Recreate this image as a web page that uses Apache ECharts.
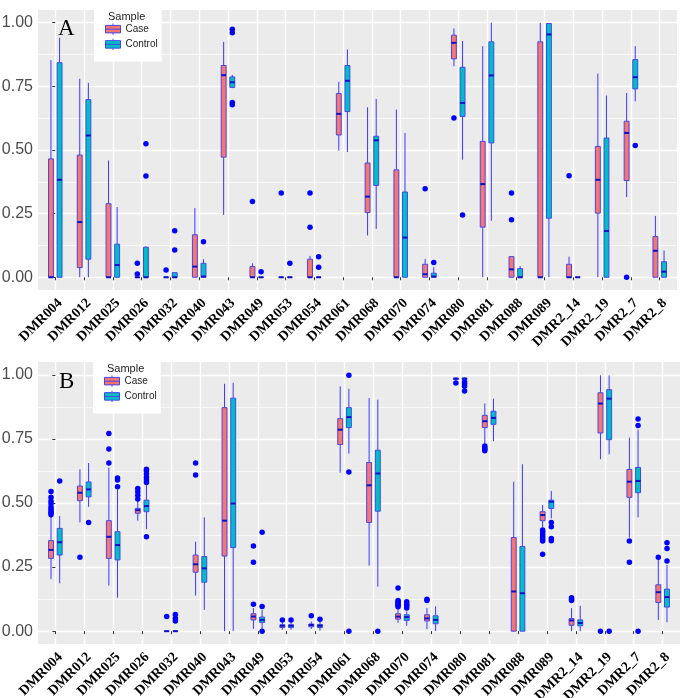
<!DOCTYPE html>
<html>
<head>
<meta charset="utf-8">
<script src="https://cdn.jsdelivr.net/npm/echarts@6/dist/echarts.min.js"></script>
<style>
html,body{margin:0;padding:0;background:#fff;}
#chart{width:685px;height:698px;}
</style>
</head>
<body>
<div id="chart"></div>
<script>
// ---------- DATA ----------
const categories = ['DMR004','DMR012','DMR025','DMR026','DMR032','DMR040','DMR043','DMR049','DMR053','DMR054','DMR061','DMR068','DMR070','DMR074','DMR080','DMR081','DMR088','DMR089','DMR2_14','DMR2_19','DMR2_7','DMR2_8'];
const groups = ['Case','Control'];
const yTicks = [0, 0.25, 0.5, 0.75, 1];
const yMinorTicks = [0.125, 0.375, 0.625, 0.875];

// Panel A boxes: [min, q1, median, q3, max]
const caseA = [
  [0,0,0,0.465,0.853],[0,0.038,0.217,0.48,0.78],[0,0,0,0.289,0.459],[0,0,0,0,0],
  [0,0,0,0,0],[0,0,0.042,0.167,0.272],[0.245,0.472,0.794,0.832,0.925],[0,0,0,0.042,0.055],
  [0,0,0,0,0],[0,0,0,0.071,0.084],[0.497,0.559,0.642,0.722,0.768],[0.164,0.254,0.317,0.449,0.668],
  [0,0,0,0.422,0.659],[0,0,0.012,0.051,0.072],[0.829,0.858,0.921,0.951,0.978],[0,0.197,0.366,0.534,0.908],
  [0,0,0.031,0.081,0.081],[0,0,0,0.925,0.999],[0,0,0,0.051,0.081],[0,0.252,0.383,0.514,0.80],
  [0.315,0.38,0.567,0.613,0.724],[0,0,0.104,0.16,0.241]
];
const controlA = [
  [0,0,0.383,0.843,0.941],[0,0.071,0.557,0.698,0.764],[0,0,0.048,0.13,0.276],[0,0,0,0.118,0.122],
  [0,0,0,0.018,0.02],[0,0,0.003,0.055,0.071],[0.743,0.746,0.766,0.787,0.795],[0,0,0,0,0],
  [0,0,0,0,0],[0,0,0,0,0],[0.492,0.651,0.772,0.832,0.895],[0.19,0.361,0.538,0.554,0.701],
  [0,0,0.156,0.335,0.567],[0,0,0.003,0.016,0.04],[0.462,0.632,0.685,0.825,0.928],[0.222,0.528,0.793,0.925,1.0],
  [0,0,0,0.034,0.044],[0,0.232,0.954,0.997,0.997],[0,0,0,0,0],[0,0,0.182,0.547,0.714],
  [0.691,0.74,0.786,0.855,0.908],[0,0,0.022,0.061,0.105]
];
const caseOutA = [
  [],[],[],[0.055,0.013],[0.029],[],[],[0.298],[0.331],[0.331,0.197],[],[],
  [],[0.348],[0.626],[],[0.331,0.226],[],[0.399],[],[0],[]
];
const controlOutA = [
  [],[],[],[0.525,0.398],[0.107,0.183],[0.14],[0.974,0.961,0.687,0.678],[0.022],[0.055],[0.081,0.039],[],[],
  [],[0.058],[0.245],[],[],[],[],[],[0.518],[]
];

// Panel B boxes: [min, q1, median, q3, max]
const caseB = [
  [0.203,0.284,0.317,0.353,0.448],[0.424,0.509,0.54,0.566,0.631],[0.178,0.284,0.368,0.431,0.638],[0.431,0.46,0.472,0.479,0.507],
  [0,0,0,0,0],[0.139,0.23,0.261,0.297,0.349],[0,0.293,0.431,0.872,0.965],[0.009,0.044,0.057,0.068,0.09],
  [0.006,0.014,0.021,0.025,0.034],[0.009,0.017,0.024,0.028,0.038],[0.618,0.728,0.786,0.829,0.955],[0.256,0.424,0.569,0.658,0.909],
  [0.032,0.047,0.057,0.068,0.086],[0.008,0.04,0.05,0.064,0.09],[0.978,0.982,0.985,0.987,0.99],[0.732,0.794,0.819,0.842,0.888],
  [0,0,0.155,0.365,0.583],[0.405,0.431,0.453,0.466,0.492],[0,0.023,0.042,0.049,0.09],[0.671,0.773,0.888,0.93,0.998],
  [0.365,0.522,0.583,0.631,0.755],[0.044,0.112,0.152,0.181,0.278]
];
const controlB = [
  [0.187,0.297,0.347,0.401,0.449],[0.485,0.524,0.553,0.582,0.656],[0.131,0.278,0.336,0.388,0.552],[0.398,0.466,0.488,0.511,0.57],
  [0,0,0,0,0],[0.083,0.191,0.245,0.291,0.444],[0,0.326,0.498,0.909,0.969],[0.006,0.034,0.044,0.055,0.083],
  [0.006,0.014,0.021,0.025,0.034],[0.002,0.014,0.021,0.026,0.038],[0.693,0.794,0.835,0.872,0.946],[0.174,0.468,0.615,0.706,0.903],
  [0.021,0.042,0.055,0.064,0.077],[0,0.029,0.044,0.06,0.097],[0.978,0.982,0.985,0.987,0.99],[0.741,0.807,0.832,0.858,0.907],
  [0,0,0.148,0.33,0.651],[0.44,0.479,0.505,0.511,0.547],[0,0.021,0.032,0.044,0.099],[0.69,0.747,0.907,0.942,0.998],
  [0.444,0.54,0.586,0.639,0.786],[0.035,0.094,0.133,0.164,0.258]
];
const caseOutB = [
  [0.454,0.461,0.468,0.476,0.484,0.497,0.508,0.522,0.545],[0.288],[0.771,0.711,0.656],[0.516,0.53,0.544,0.557],
  [0.057],[0.656,0.609],[],[0.105,0.269,0.332],[0.044],[0.06],[],[],
  [0.095,0.1,0.105,0.11,0.115,0.12,0.168],[0.12,0.125],[0.968],[0.722,0.716,0.71,0.704],[],
  [0.395,0.388,0.38,0.372,0.365,0.358,0.352,0.3],[0.12,0.125,0.13],[0],[0.352,0.269],[0.288]
];
const controlOutB = [
  [0.586],[0.424],[0.598,0.59,0.563],[0.58,0.59,0.6,0.613,0.625,0.632,0.368],
  [0.065,0.05,0.04],[],[],[0,0.096,0.386],[0.044],[0.047],[0.998,0.621,0],[0],
  [0.09,0.098,0.105,0.115],[],[0.972,0.964,0.955,0.937],[],[],
  [0.424,0.407,0.362,0.353],[],[0],[0.828,0.802,0],[0.345,0.323,0.274]
];

// ---------- STYLE ----------
const FILL = {Case:'#F8766D', Control:'#00BFC4'};
const DODGE = {Case:-0.15, Control:0.15};
const BOX_W = 0.17;
const WHISKER = '#3a3aff';
const BORDER = '#4646ee';
const MEDIAN = '#1010cc';
const OUTLIER = '#0000ff';

function renderBox(off){
  return function(params, api){
    const x = api.value(0) + off;
    const mn = api.coord([x, api.value(1)]);
    const q1 = api.coord([x, api.value(2)]);
    const md = api.coord([x, api.value(3)]);
    const q3 = api.coord([x, api.value(4)]);
    const mx = api.coord([x, api.value(5)]);
    const hw = api.size([BOX_W, 0])[0] / 2;
    return {type:'group', children:[
      {type:'line', shape:{x1:mn[0],y1:mn[1],x2:q1[0],y2:q1[1]}, style:{stroke:WHISKER,lineWidth:1}},
      {type:'line', shape:{x1:q3[0],y1:q3[1],x2:mx[0],y2:mx[1]}, style:{stroke:WHISKER,lineWidth:1}},
      {type:'rect', shape:{x:q3[0]-hw,y:q3[1],width:2*hw,height:q1[1]-q3[1]}, style:{fill:api.visual('color'),stroke:BORDER,lineWidth:1}},
      {type:'line', shape:{x1:md[0]-hw,y1:md[1],x2:md[0]+hw,y2:md[1]}, style:{stroke:MEDIAN,lineWidth:2}}
    ]};
  };
}

function boxSeries(name, boxes, axisIdx){
  return {
    type:'custom', name:name, xAxisIndex:axisIdx, yAxisIndex:axisIdx*2,
    itemStyle:{color:FILL[name]},
    renderItem: renderBox(DODGE[name]),
    encode:{x:0, y:[1,2,3,4,5]},
    data: boxes.map((b,i)=>[i].concat(b)),
    z:3, silent:true
  };
}
function outSeries(name, outs, axisIdx){
  const pts = [];
  outs.forEach((arr,i)=>arr.forEach(v=>pts.push([i + DODGE[name], v])));
  return {
    type:'scatter', name:name, xAxisIndex:axisIdx, yAxisIndex:axisIdx*2,
    symbol:'circle', symbolSize:5.5, itemStyle:{color:OUTLIER, opacity:1},
    data: pts, z:4, silent:true
  };
}

function xAxisDef(gi){
  return {
    type:'value', gridIndex:gi, min:-0.6, max:21.6,
    axisLine:{show:false},
    axisTick:{show:true, length:3, lineStyle:{color:'#333'}, customValues: categories.map((c,i)=>i)},
    axisLabel:{customValues: categories.map((c,i)=>i), formatter:(v)=>categories[Math.round(v)],
      rotate:45, margin:6, align:'right', verticalAlign:'top',
      fontFamily:'Liberation Serif', fontWeight:'bold', fontSize:14, color:'#000'},
    splitLine:{show:true, lineStyle:{color:'#ffffff', width:1.4}}
  };
}
function yAxisMajor(gi){
  return {
    type:'value', gridIndex:gi, min:-0.05, max:1.05,
    axisLine:{show:false},
    axisTick:{show:true, length:3, lineStyle:{color:'#333'}, customValues: yTicks},
    axisLabel:{customValues: yTicks, formatter:(v)=>v.toFixed(2), margin:5,
      fontFamily:'Liberation Sans', fontSize:16, color:'#4D4D4D'},
    splitLine:{show:true, lineStyle:{color:'#ffffff', width:1.4}}
  };
}
function yAxisMinor(gi){
  return {
    type:'value', gridIndex:gi, min:-0.05, max:1.05, position:'left',
    axisLine:{show:false},
    axisTick:{show:false, customValues: yMinorTicks},
    axisLabel:{show:false},
    splitLine:{show:true, lineStyle:{color:'#ffffff', width:0.7}}
  };
}

const ICON = 'path://M0,2H16V10H0Z M0,6H16 M8,0V2 M8,10V12';
function legendDef(top, left){
  return {
    top:top, left:left, orient:'vertical', backgroundColor:'#ffffff',
    padding:[16,4,11,11], itemWidth:15, itemHeight:12, itemGap:3,
    textStyle:{fontSize:10, color:'#222', fontFamily:'Liberation Sans'},
    z:5, selectedMode:false,
    data: groups.map(g=>({name:g, icon:ICON, itemStyle:{color:FILL[g], borderColor:BORDER, borderWidth:1}}))
  };
}

const option = {
  animation:false,
  backgroundColor:'#ffffff',
  grid:[
    {left:38, right:8, top:10, height:280, show:true, backgroundColor:'#EBEBEB', borderWidth:0, containLabel:false, outerBoundsMode:'none'},
    {left:38, right:5, top:362, height:282, show:true, backgroundColor:'#EBEBEB', borderWidth:0, containLabel:false, outerBoundsMode:'none'}
  ],
  xAxis:[xAxisDef(0), xAxisDef(1)],
  yAxis:[yAxisMajor(0), yAxisMinor(0), yAxisMajor(1), yAxisMinor(1)],
  title:[
    {text:'A', left:53, top:12, z:10, textStyle:{fontFamily:'Liberation Serif', fontWeight:'normal', fontSize:23, color:'#000'}},
    {text:'B', left:54, top:365, z:10, textStyle:{fontFamily:'Liberation Serif', fontWeight:'normal', fontSize:23, color:'#000'}},
    {text:'Sample', left:103, top:6, z:10, textStyle:{fontFamily:'Liberation Sans', fontWeight:'normal', fontSize:11, color:'#222'}},
    {text:'Sample', left:102, top:358, z:10, textStyle:{fontFamily:'Liberation Sans', fontWeight:'normal', fontSize:11, color:'#222'}}
  ],
  legend:[legendDef(7, 94), legendDef(359, 93)],
  series:[
    boxSeries('Case', caseA, 0), boxSeries('Control', controlA, 0),
    outSeries('Case', caseOutA, 0), outSeries('Control', controlOutA, 0),
    boxSeries('Case', caseB, 1), boxSeries('Control', controlB, 1),
    outSeries('Case', caseOutB, 1), outSeries('Control', controlOutB, 1)
  ]
};
const chart = echarts.init(document.getElementById('chart'), null, {renderer:'canvas'});
chart.setOption(option);
</script>
</body>
</html>
